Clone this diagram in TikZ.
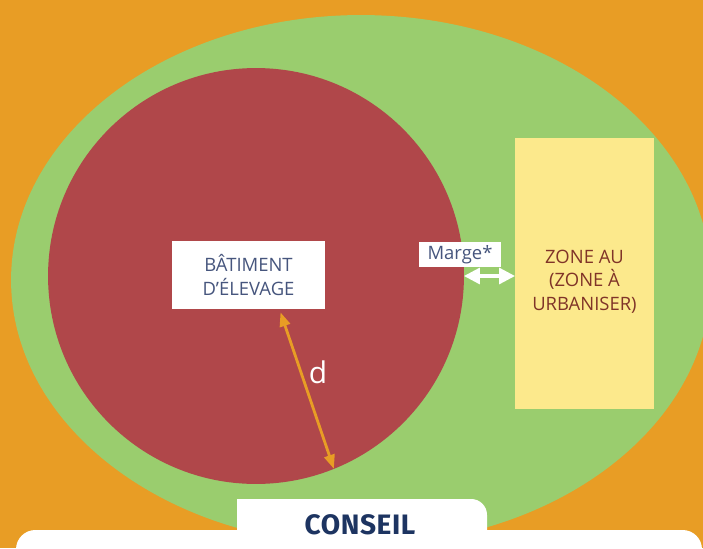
\documentclass[tikz,border=0pt]{standalone}
\usepackage{fontspec}
\setmainfont{Open Sans}
\newfontfamily\conseilfont{Fira Sans}[LetterSpace=2]
\usepackage{tikz}
\usetikzlibrary{calc, shapes, arrows.meta}

\definecolor{fond}{RGB}{232,157,37}
\definecolor{vert}{RGB}{154,205,110}
\definecolor{rouge}{RGB}{176,71,74}
\definecolor{jaune}{RGB}{252,233,140}
\definecolor{bleutxt}{RGB}{70,85,125}
\definecolor{brun}{RGB}{128,52,40}
\definecolor{marine}{RGB}{29,52,97}

\begin{document}
\begin{tikzpicture}[x=0.02cm, y=-0.02cm]

    \tikzstyle{zone}=[inner sep=0pt, outer sep=0pt];
    \tikzstyle{etiq}=[fill=white, text=bleutxt, inner sep=0pt, align=center, font=\fontsize{10.5}{13.5}\selectfont];

    \useasboundingbox (0, 0) rectangle (703, 548);
    \fill[fond] (0, 0) rectangle (703, 548);

    \node[ellipse, fill=vert, minimum width=14cm, minimum height=10.6cm] (champ) at (361, 280) [zone] {};
    \node[circle, fill=rouge, minimum size=8.32cm] (elev) at (256, 276) [zone] {};
    \node[rectangle, fill=jaune, minimum width=2.78cm, minimum height=5.44cm] (au) at (584.5, 273.5) [zone] {};
    \node[text=brun, align=center, font=\fontsize{10.5}{13.5}\selectfont] (autxt) at ($(au.center)+(0,8)$) {ZONE AU\\(ZONE À\\URBANISER)};

    \node[minimum width=3.06cm, minimum height=1.36cm] (bat) at (248.5, 275) [etiq] {BÂTIMENT\\D’ÉLEVAGE};
    \node[minimum width=1.64cm, minimum height=0.5cm] (marge) at (460, 254.5) [etiq] {Marge*};

    \coordinate (dtop) at ($(bat.south)+(32,3)$);
    \draw (dtop) edge[{Triangle[length=8pt, width=6pt]}-{Triangle[length=8pt, width=6pt]}, line width=1.6pt, fond] (elev.-68);
    \node[text=white, font=\fontsize{17}{20}\selectfont] (d) at (318, 372) {d};

    \draw (elev.east) edge[{Triangle[length=9pt, width=9pt]}-{Triangle[length=9pt, width=9pt]}, line width=1.8pt, white] (elev.east -| au.west);

    % encadre conseil
    \fill[white, rounded corners=11pt] (16, 530) rectangle (702, 600);
    \fill[white, rounded corners=9pt] (237, 499) rectangle (487, 560);
    \fill[white] (237, 499) rectangle (300, 560);
    \node[text=marine, font=\conseilfont\bfseries\fontsize{16}{18}\selectfont] (conseil) at (360, 525) {CONSEIL};

\end{tikzpicture}
\end{document}
